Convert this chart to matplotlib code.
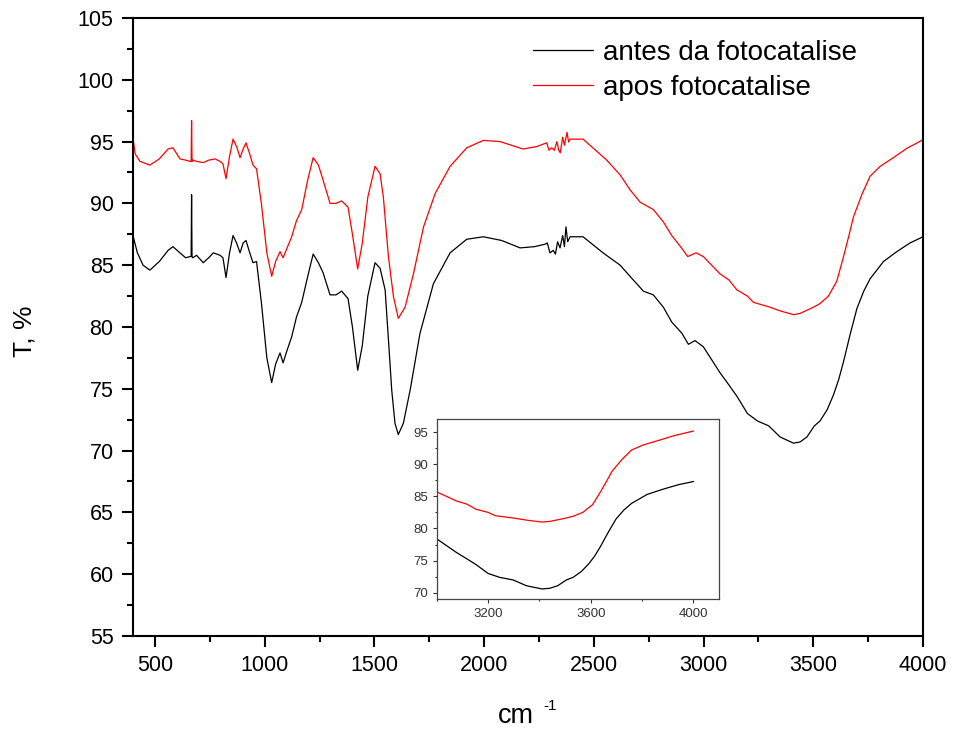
import numpy as np
import matplotlib
matplotlib.use('Agg')
import matplotlib.pyplot as plt
from matplotlib.ticker import MultipleLocator

plt.rcParams['font.family'] = ['Liberation Sans', 'DejaVu Sans']

# wavenumber (cm-1) and transmittance (%)
wn_antes = [400, 420, 446, 477, 520, 560, 582, 614, 640, 660, 665, 667, 669, 672, 690, 720, 745, 766,
            797, 810, 824, 840, 856, 872, 888, 902, 915, 932, 947, 963, 985, 1010, 1032, 1050,
            1070, 1084, 1100, 1123, 1145, 1169, 1195, 1221, 1245, 1266, 1298, 1325, 1351, 1380,
            1400, 1424, 1445, 1470, 1503, 1526, 1549, 1564, 1579, 1594, 1609, 1632, 1663, 1708,
            1769, 1845, 1921, 1997, 2080, 2164, 2230, 2278, 2288, 2300, 2315, 2325, 2335, 2346, 2358,
            2366, 2373, 2381, 2392, 2451, 2542, 2620, 2665, 2726, 2771, 2817, 2855, 2901, 2931,
            2961, 2999, 3075, 3116, 3152, 3200, 3245, 3297, 3349, 3410, 3440, 3471, 3505, 3531,
            3563, 3592, 3615, 3638, 3668, 3699, 3730, 3759, 3820, 3881, 3941, 4000]
t_antes = [87.4, 86.0, 85.0, 84.6, 85.3, 86.2, 86.5, 86.0, 85.6, 85.7, 85.7, 90.7, 85.7, 85.6, 85.8, 85.2, 85.6, 86.0,
           85.8, 85.6, 84.0, 86.0, 87.4, 86.8, 86.0, 86.8, 87.0, 86.0, 85.2, 85.3, 82.0, 77.5, 75.5, 77.0,
           77.9, 77.1, 78.0, 79.2, 80.8, 82.0, 84.0, 85.9, 85.2, 84.4, 82.6, 82.6, 82.9, 82.3,
           80.0, 76.5, 78.5, 82.5, 85.2, 84.75, 83.0, 79.0, 74.9, 72.2, 71.3, 72.2, 74.9, 79.5,
           83.5, 86.0, 87.1, 87.3, 87.0, 86.4, 86.5, 86.7, 86.8, 86.0, 86.2, 85.9, 86.9, 86.4, 87.4,
           86.5, 88.1, 86.9, 87.3, 87.3, 86.0, 85.0, 84.1, 82.9, 82.6, 81.6, 80.4, 79.5, 78.6,
           78.9, 78.4, 76.3, 75.3, 74.4, 73.0, 72.4, 72.0, 71.1, 70.6, 70.7, 71.1, 72.0, 72.4,
           73.3, 74.5, 75.7, 77.2, 79.4, 81.5, 82.9, 83.9, 85.3, 86.1, 86.8, 87.3]

wn_apos = [400, 410, 432, 477, 520, 560, 582, 614, 640, 660, 665, 667, 669, 672, 690, 720, 745, 774,
           797, 810, 824, 840, 856, 872, 888, 902, 915, 932, 947, 963, 985, 1010, 1032, 1050,
           1070, 1084, 1100, 1123, 1145, 1169, 1195, 1221, 1245, 1266, 1298, 1325, 1351, 1380,
           1400, 1424, 1445, 1470, 1503, 1526, 1541, 1564, 1587, 1609, 1640, 1678, 1724, 1777,
           1845, 1921, 1997, 2073, 2178, 2240, 2285, 2296, 2308, 2320, 2332, 2340, 2347, 2358,
           2366, 2378, 2385, 2392, 2451, 2559, 2620, 2665, 2711, 2771, 2817, 2855, 2895, 2928,
           2966, 2999, 3075, 3116, 3152, 3200, 3227, 3303, 3350, 3410, 3440, 3501, 3531, 3569,
           3607, 3638, 3661, 3683, 3721, 3759, 3805, 3865, 3926, 4000]
t_apos = [95.3, 94.0, 93.4, 93.1, 93.6, 94.4, 94.5, 93.6, 93.5, 93.4, 93.4, 96.7, 93.4, 93.5, 93.4, 93.3, 93.5, 93.6,
          93.4, 93.2, 92.0, 93.8, 95.2, 94.6, 93.7, 94.4, 94.9, 94.0, 93.1, 92.8, 90.0, 86.0, 84.1, 85.3,
          86.1, 85.6, 86.3, 87.3, 88.6, 89.5, 91.8, 93.7, 93.1, 91.9, 90.0, 90.0, 90.2, 89.7,
          87.5, 84.7, 86.8, 90.5, 93.0, 92.4, 90.5, 85.7, 82.45, 80.7, 81.6, 84.3, 88.1, 90.8,
          93.0, 94.5, 95.1, 95.0, 94.4, 94.6, 94.9, 94.3, 94.5, 94.3, 95.0, 94.3, 94.1, 95.35,
          94.7, 95.75, 94.96, 95.2, 95.2, 93.5, 92.3, 91.1, 90.1, 89.5, 88.5, 87.4, 86.5, 85.7,
          86.0, 85.7, 84.3, 83.8, 83.0, 82.5, 82.0, 81.6, 81.3, 81.0, 81.1, 81.6, 81.9, 82.5,
          83.7, 85.7, 87.3, 88.9, 90.7, 92.2, 93.0, 93.7, 94.45, 95.15]

fig = plt.figure(figsize=(9.54, 7.29), dpi=100)
ax = fig.add_axes([0.1394, 0.1276, 0.8281, 0.8477])

ax.plot(wn_antes, t_antes, color='black', lw=0.9, label='antes da fotocatalise')
ax.plot(wn_apos, t_apos, color='red', lw=0.9, label='apos fotocatalise')

ax.set_xlim(400, 4000)
ax.set_ylim(55, 105)
ax.xaxis.set_major_locator(MultipleLocator(500))
ax.xaxis.set_minor_locator(MultipleLocator(250))
ax.yaxis.set_major_locator(MultipleLocator(5))
ax.yaxis.set_minor_locator(MultipleLocator(2.5))
ax.tick_params(which='major', direction='out', length=8, width=1.5, labelsize=15.5, pad=6)
ax.tick_params(which='minor', direction='out', length=4, width=1.5)
for s in ax.spines.values():
    s.set_linewidth(1.5)

# axis titles placed by hand (superscript as in the original)
fig.text(498 / 954, 6 / 729, 'cm', fontsize=19.5, ha='left', va='baseline')
fig.text(543 / 954, 19 / 729, '-1', fontsize=11, ha='left', va='baseline')
fig.text(25 / 954, 1 - 331 / 729, 'T, %', fontsize=19, rotation=90, ha='center', va='center')

leg = ax.legend(loc='upper left', bbox_to_anchor=(0.506, 0.9645), frameon=False, fontsize=20,
                handlelength=2.16, handletextpad=0.36, labelspacing=0.33, borderpad=0,
                borderaxespad=0)

# inset zoom 3000-4000
axi = fig.add_axes([0.458, 0.178, 0.2956, 0.247])
axi.plot(wn_antes, t_antes, color='black', lw=0.9)
axi.plot(wn_apos, t_apos, color='red', lw=0.9)
axi.set_xlim(3000, 4100)
axi.set_ylim(69, 97)
axi.set_xticks([3200, 3600, 4000])
axi.xaxis.set_minor_locator(MultipleLocator(200))
axi.yaxis.set_major_locator(MultipleLocator(5))
axi.yaxis.set_minor_locator(MultipleLocator(2.5))
axi.tick_params(which='major', direction='out', length=3, width=0.8, labelsize=9.5, colors='#333333')
axi.tick_params(which='minor', direction='out', length=1.5, width=0.8, colors='#333333')
for s in axi.spines.values():
    s.set_linewidth(0.9)
    s.set_color('#444444')

fig.savefig('out.png', dpi=100)
